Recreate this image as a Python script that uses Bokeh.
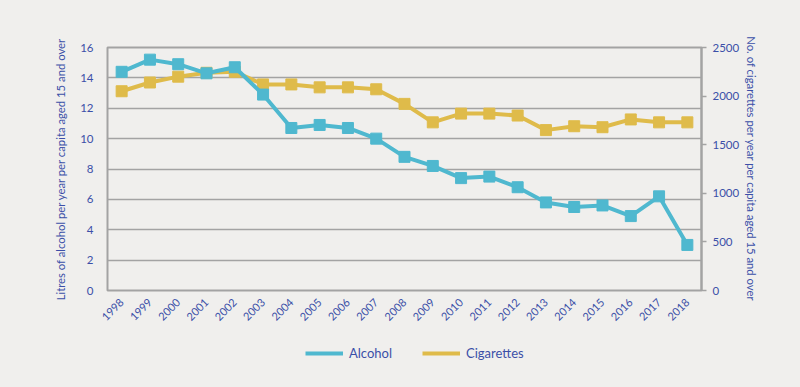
from bokeh.plotting import figure
from bokeh.layouts import column
from bokeh.models import Range1d, LinearAxis, FactorRange, Legend, LegendItem, FixedTicker
from bokeh.embed import file_html
from bokeh.resources import INLINE

years = [str(y) for y in range(1998, 2019)]
alcohol = [14.4, 15.2, 14.9, 14.3, 14.7, 12.9, 10.7, 10.9, 10.7, 10.0, 8.8,
           8.2, 7.4, 7.5, 6.8, 5.8, 5.5, 5.6, 4.9, 6.2, 3.0]
cigarettes = [2050, 2140, 2200, 2240, 2250, 2120, 2120, 2090, 2090, 2070, 1920,
              1730, 1820, 1820, 1800, 1650, 1690, 1680, 1760, 1730, 1730]
left_ticks = [0, 2, 4, 6, 8, 10, 12, 14, 16]
right_ticks = [0, 500, 1000, 1500, 2000, 2500]
series_names = ["Alcohol", "Cigarettes"]

BG = "#f0efed"
TXT = "#3b4fa8"
ALC = "#4fb8cf"
CIG = "#dfbb4a"
GRID = "#a3a3a3"
FONT = "Lato"

W = 784
H_MAIN = 335
H_LEG = 36

p = figure(width=W, height=H_MAIN, x_range=FactorRange(factors=years, range_padding=0),
           y_range=Range1d(0, 16), output_backend="svg", toolbar_location=None,
           background_fill_color=BG, border_fill_color=BG,
           min_border_left=107, min_border_right=83, min_border_top=47, min_border_bottom=45)
p.extra_y_ranges = {"cig": Range1d(0, 2500)}

p.outline_line_color = GRID
p.outline_line_width = 2
p.xgrid.grid_line_color = None
p.ygrid.grid_line_color = GRID
p.ygrid.grid_line_width = 1.5
p.ygrid.ticker = FixedTicker(ticks=left_ticks)

# left axis
ya = p.yaxis[0]
ya.ticker = FixedTicker(ticks=left_ticks)
ya.axis_line_color = None
ya.major_tick_line_color = None
ya.minor_tick_line_color = None
ya.axis_label = "Litres of alcohol per year per capita aged 15 and over"
ya.axis_label_text_font = FONT
ya.axis_label_text_font_style = "normal"
ya.axis_label_text_font_size = "11.3px"
ya.axis_label_text_color = TXT
ya.major_label_text_font = FONT
ya.major_label_text_font_size = "11.5px"
ya.major_label_text_color = TXT
ya.major_label_standoff = 8
ya.axis_label_standoff = 10

# right axis
ra = LinearAxis(y_range_name="cig", ticker=FixedTicker(ticks=right_ticks))
ra.axis_line_color = GRID
ra.axis_line_width = 2
ra.major_tick_line_color = GRID
ra.major_tick_line_width = 1.5
ra.major_tick_out = 5
ra.major_tick_in = 0
ra.minor_tick_line_color = None
ra.axis_label = "No. of cigarettes per year per capita aged 15 and over"
ra.axis_label_text_font = FONT
ra.axis_label_text_font_style = "normal"
ra.axis_label_text_font_size = "11.3px"
ra.axis_label_text_color = TXT
ra.major_label_text_font = FONT
ra.major_label_text_font_size = "11.5px"
ra.major_label_text_color = TXT
ra.major_label_standoff = 6
ra.axis_label_standoff = 3
p.add_layout(ra, "right")

# x axis
xa = p.xaxis[0]
xa.axis_line_color = None
xa.major_tick_line_color = None
xa.minor_tick_line_color = None
xa.major_label_orientation = 0.785
xa.major_label_text_font = FONT
xa.major_label_text_font_size = "11px"
xa.major_label_text_color = TXT
xa.major_label_standoff = 4

p.line(years, cigarettes, line_color=CIG, line_width=4, y_range_name="cig")
p.scatter(years, cigarettes, marker="square", size=11, fill_color=CIG, line_color=CIG,
          y_range_name="cig")
p.line(years, alcohol, line_color=ALC, line_width=4)
p.scatter(years, alcohol, marker="square", size=11, fill_color=ALC, line_color=ALC)

# legend strip: same series drawn on a y-range where they fall out of view,
# so only their legend swatches appear
lp = figure(width=W, height=H_LEG, x_range=FactorRange(factors=years, range_padding=0),
            y_range=Range1d(-200, -100),
            output_backend="svg", toolbar_location=None,
            background_fill_color=None, border_fill_color=None,
            min_border_left=0, min_border_right=0, min_border_top=0, min_border_bottom=0)
lp.axis.visible = False
lp.grid.visible = False
lp.outline_line_color = None
r_alc = lp.line(years, alcohol, line_color=ALC, line_width=4)
r_cig = lp.line(years, cigarettes, line_color=CIG, line_width=4)
legend = Legend(items=[LegendItem(label=series_names[0], renderers=[r_alc]),
                       LegendItem(label=series_names[1], renderers=[r_cig])],
                orientation="horizontal", location=(198, 10),
                background_fill_alpha=0, border_line_color=None,
                label_text_font=FONT, label_text_font_size="13px",
                label_text_color=TXT, glyph_width=38, glyph_height=16,
                spacing=30, label_standoff=6, padding=0, margin=0)
lp.add_layout(legend)

layout = column(p, lp, spacing=0)

html = file_html(layout, INLINE)
html = html.replace("</head>", "<style>html,body{background:%s;}</style></head>" % BG, 1)
open("out.html", "w").write(html)
